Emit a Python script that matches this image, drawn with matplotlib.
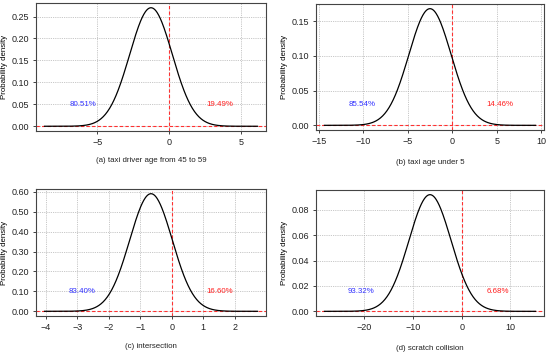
import numpy as np
import matplotlib
matplotlib.use("Agg")
import matplotlib.pyplot as plt
from matplotlib.ticker import FormatStrFormatter

plt.rcParams["font.family"] = ["Liberation Sans", "DejaVu Sans"]

# normal density parameters (peak height + tail share)
captions = ["(a) taxi driver age from 45 to 59", "(b) taxi age under 5",
            "(c) intersection", "(d) scratch collision"]
means = [-1.27, -2.52, -0.656, -6.5]
sds = [1.477, 2.374, 0.676, 4.336]
left_pct = ["80.51%", "85.54%", "83.40%", "93.32%"]
right_pct = ["19.49%", "14.46%", "16.60%", "6.68%"]
left_pos = [(-6.0, 0.05), (-10.2, 0.0295), (-2.85, 0.10), (-20.7, 0.0159)]
right_pos = [(3.5, 0.05), (5.3, 0.0295), (1.52, 0.10), (7.5, 0.0159)]
xticks = [[-5, 0, 5], [-15, -10, -5, 0, 5, 10], [-4, -3, -2, -1, 0, 1, 2], [-20, -10, 0, 10]]
yticks = [np.arange(0, 0.251, 0.05), np.arange(0, 0.151, 0.05),
          np.arange(0, 0.601, 0.10), np.arange(0, 0.081, 0.02)]

W, H = 550, 354
# axes boxes in pixels: left, top, right, bottom
boxes = [(36, 3, 266, 131), (316, 4, 544, 130), (36, 189, 266, 316), (316, 190, 544, 316)]
cap_y = [161, 162, 347, 348]
ylab_x = [5, 285, 5, 285]

fig = plt.figure(figsize=(W / 100, H / 100), dpi=100)
fs_tick = 6.5
fs = 5.7

for i in range(4):
    l, t, r, b = boxes[i]
    ax = fig.add_axes([l / W, 1 - b / H, (r - l) / W, (b - t) / H])
    mu, sd = means[i], sds[i]
    x = np.linspace(mu - 5 * sd, mu + 5 * sd, 400)
    y = np.exp(-0.5 * ((x - mu) / sd) ** 2) / (sd * np.sqrt(2 * np.pi))
    ax.plot(x, y, color="black", lw=0.9, zorder=3)
    span = x[-1] - x[0]
    ax.set_xlim(x[0] - 0.04 * span, x[-1] + 0.04 * span)
    ax.set_ylim(-0.04 * y.max(), 1.04 * y.max())
    ax.set_xticks(xticks[i])
    ax.set_yticks(yticks[i])
    ax.yaxis.set_major_formatter(FormatStrFormatter("%.2f"))
    ax.set_xticklabels([str(v).replace("-", "\u2212") for v in xticks[i]])
    ax.grid(True, color="#b4b4b4", ls=(0, (1, 1.2)), lw=0.6)
    ax.set_axisbelow(True)
    ax.axvline(0, color="#ff3030", ls=(0, (3, 2)), lw=0.8, zorder=2)
    ax.axhline(0, color="#ff3030", ls=(0, (3, 2)), lw=0.8, zorder=2)
    ax.text(*left_pos[i], left_pct[i], color="#3333ff", fontsize=fs, ha="center", va="center")
    ax.text(*right_pos[i], right_pct[i], color="#ff2020", fontsize=fs, ha="center", va="center")
    ax.tick_params(labelsize=fs_tick, length=2.5, width=0.6, pad=2.5, colors="#222222")
    for s in ax.spines.values():
        s.set_color("#444444")
        s.set_linewidth(0.8)
    ax.set_ylabel("Probability density", fontsize=fs, va="center")
    ax.yaxis.set_label_coords((ylab_x[i] - l) / (r - l), 0.5)
    fig.text(((l + r) / 2) / W, 1 - cap_y[i] / H, captions[i], fontsize=fs,
             ha="center", va="center", color="#222222")

fig.savefig("out.png", dpi=100)
